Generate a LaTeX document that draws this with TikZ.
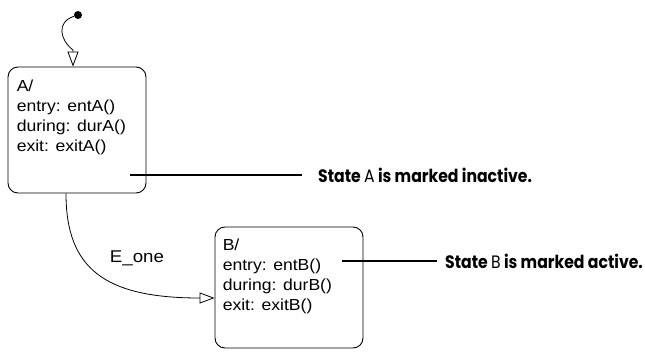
\documentclass[tikz,border=0pt]{standalone}
\usepackage{fontspec}
\setmainfont[FakeStretch=1.1]{Liberation Sans}
\newfontfamily\notefont[FakeStretch=0.87]{Poppins}
\usetikzlibrary{
    arrows.meta,
    positioning
}

\begin{document}
\begin{tikzpicture}[
    x=1pt, y=-1pt,
    state/.style={rectangle, draw, rounded corners=10pt, line width=0.9pt},
    statetext/.style={anchor=north west, inner sep=0pt, align=left, font=\fontsize{16}{20}\selectfont},
    trans/.style={-{Triangle[open, length=15pt, width=11pt]}, line width=0.8pt},
    note/.style={anchor=west, inner sep=0pt, font=\notefont\bfseries\fontsize{18}{20}\selectfont},
    noteline/.style={line width=2pt}
]
\useasboundingbox (0,0) rectangle (645,351);

% States
\node[state, minimum width=138pt, minimum height=126pt] (stateA) at (77,130) {};
\node[statetext] (stateAtext) at ([shift={(9,13)}]stateA.north west) {A/\\entry: entA()\\during: durA()\\exit: exitA()};

\node[state, minimum width=148pt, minimum height=121pt] (stateB) at (289,287.5) {};
\node[statetext] (stateBtext) at ([shift={(8,12)}]stateB.north west) {B/\\entry: entB()\\during: durB()\\exit: exitB()};

% Default transition
\node[circle, fill, inner sep=0pt, minimum size=8pt] (init) at (78,15) {};
\coordinate (initbend) at (73,50);
\draw[trans] (init) .. controls (56,22) and (60,40) .. (initbend) -- ([xshift=-4pt]stateA.north);

% Transition A -> B
\draw[trans] ([xshift=-11pt]stateA.south) .. controls +(0,75) and +(-110,0) .. ([yshift=-10.5pt]stateB.west);
\node[font=\fontsize{17}{18}\selectfont] (eone) at (137,258) {E\_one};

% Notes
\coordinate (noteAstart) at (130,175);
\node[note] (noteA) at (318,175) {State {\mdseries A} is marked inactive.};
\draw[noteline, shorten >=16pt] (noteAstart) -- (noteA.west);

\coordinate (noteBstart) at (342,261);
\node[note] (noteB) at (445,261) {State {\mdseries B} is marked active.};
\draw[noteline, shorten >=8pt] (noteBstart) -- (noteB.west);

\end{tikzpicture}
\end{document}
